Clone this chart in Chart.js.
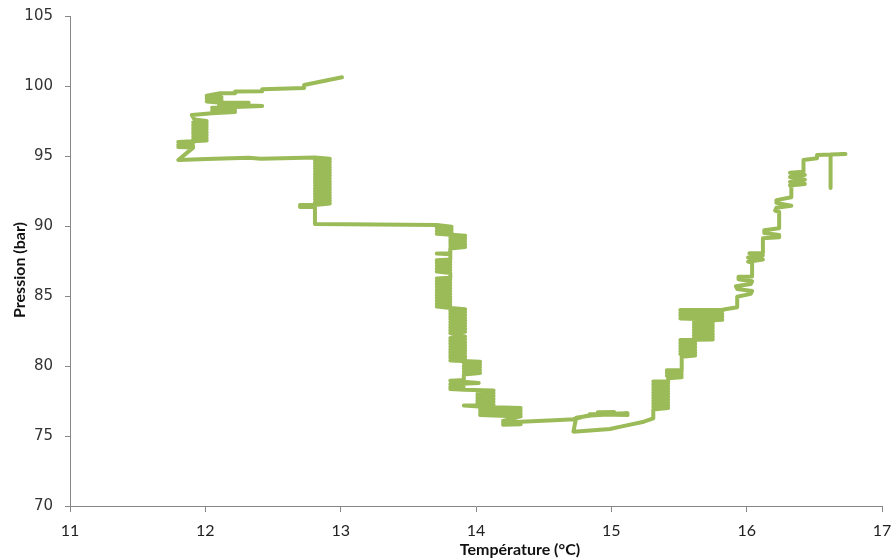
<!DOCTYPE html>
<html lang="fr">
<head>
<meta charset="utf-8">
<title>Pression / Température</title>
<script src="https://cdn.jsdelivr.net/npm/chart.js@4.4.1/dist/chart.umd.min.js"></script>
<style>
  html, body { margin: 0; padding: 0; background: #fff; }
  #wrap { position: relative; width: 896px; height: 560px; }
</style>
</head>
<body>
<div id="wrap"><canvas id="ptChart"></canvas></div>
<script>
// Température (°C), in the order the trace runs
const temperature = [
  13.01, 12.73, 12.73, 12.42, 12.42, 12.22, 12.22, 12.11,
  12.01, 12.12, 12.01, 12.12, 12.01, 12.12,
  12.32, 12.1, 12.42, 12.22,
  12.05, 12.22, 12.05, 12.22, 12.05, 11.9, 11.92,
  12.01, 11.91, 12.01, 11.91, 12.01, 11.91, 12.01, 11.91, 12.01, 11.91, 12.01, 11.91, 12.01, 11.91, 12.01,
  11.8, 11.91, 11.8, 11.91, 11.8, 11.91,
  11.8, 12.01, 12.32, 12.41, 12.81,
  // 12.8 - 12.9 block
  12.92, 12.81, 12.92, 12.81, 12.92, 12.81, 12.92, 12.81, 12.92, 12.81, 12.92, 12.81,
  12.92, 12.81, 12.92, 12.81, 12.92,
  12.81, 12.92, 12.81, 12.92, 12.81, 12.92, 12.81, 12.92, 12.81, 12.92, 12.81, 12.92,
  12.81, 12.92, 12.81, 12.92, 12.81,
  12.7, 12.7, 12.81, 12.81, 13.71,
  // descent near 13.8
  13.82, 13.71, 13.82, 13.71, 13.82, 13.71, 13.82,
  13.92, 13.81, 13.92, 13.81, 13.92, 13.81, 13.92, 13.81, 13.92, 13.81,
  13.81, 13.71, 13.81, 13.81,
  13.71, 13.81, 13.71, 13.81, 13.71, 13.81, 13.71, 13.81, 13.71, 13.81,
  13.81,
  13.71, 13.81, 13.71, 13.81, 13.71, 13.81, 13.71, 13.81, 13.71, 13.81, 13.71,
  13.81, 13.71, 13.81, 13.71, 13.81, 13.71, 13.81, 13.71, 13.81, 13.71, 13.81,
  13.92, 13.81, 13.92, 13.81, 13.92, 13.81, 13.92, 13.81, 13.92,
  13.81, 13.92, 13.81, 13.92, 13.81, 13.92, 13.81, 13.92, 13.81,
  13.92, 13.81, 13.92, 13.81, 13.92, 13.81, 13.92, 13.81, 13.92,
  13.81, 13.92, 13.81, 13.92, 13.81, 13.92, 13.81, 13.92, 13.81,
  14.03, 13.91, 14.03, 13.91, 14.03, 13.91, 14.03, 13.91, 14.03, 13.91,
  13.91,
  13.81, 14.02, 13.81, 13.91, 13.81, 13.91, 13.81, 13.91,
  14.13, 14.01, 14.13, 14.01, 14.13, 14.01, 14.13, 14.01, 14.13, 14.01, 14.13,
  14.01, 13.91, 14.08,
  14.33, 14.03, 14.33, 14.03, 14.33, 14.03, 14.33,
  14.2, 14.33, 14.2, 14.33, 14.2, 14.33,
  // bottom near 76 bar
  14.62, 14.72, 14.82, 15.12, 14.84, 15.12, 14.9, 15.02, 14.74, 14.72, 14.99, 15.07, 15.24, 15.31,
  // ascent
  15.31, 15.42, 15.31, 15.42, 15.31, 15.42, 15.31, 15.42, 15.31, 15.42, 15.31,
  15.42, 15.31, 15.42, 15.31, 15.42, 15.31, 15.42, 15.31, 15.42, 15.31,
  15.42, 15.42,
  15.52, 15.41, 15.52, 15.41, 15.52, 15.41,
  15.52, 15.52,
  15.62, 15.51, 15.62, 15.51, 15.62, 15.51, 15.62, 15.51, 15.62, 15.51, 15.62, 15.51,
  15.75, 15.61, 15.75, 15.61, 15.75, 15.61, 15.75, 15.61, 15.75, 15.61, 15.75, 15.61, 15.75, 15.61,
  15.82, 15.51, 15.82, 15.51, 15.82, 15.51, 15.82, 15.51,
  15.82, 15.93, 15.93,
  15.93, 16.03, 16.04, 15.93, 15.92, 16.03, 16.04, 15.94, 15.94, 16.04, 16.04,
  16.01, 16.12, 16.01, 16.12, 16.02, 16.12, 16.12,
  16.24, 16.24, 16.13, 16.13, 16.24, 16.24,
  16.21, 16.22, 16.33, 16.22, 16.22, 16.33, 16.33,
  16.32, 16.43, 16.32, 16.43, 16.32, 16.43, 16.32, 16.42, 16.42,
  16.52, 16.52, 16.73, 16.62, 16.62
];

// Pression (bar), same order and same line layout as above
const pressure = [
  100.62, 100.07, 99.85, 99.76, 99.62, 99.6, 99.48, 99.48,
  99.3, 99.2, 99.1, 99.0, 98.9, 98.8,
  98.8, 98.7, 98.58, 98.5,
  98.45, 98.35, 98.25, 98.15, 98.05, 97.93, 97.6,
  97.5, 97.4, 97.3, 97.2, 97.1, 97.0, 96.9, 96.8, 96.7, 96.6, 96.5, 96.4, 96.3, 96.2, 96.1,
  96.0, 95.9, 95.8, 95.7, 95.65, 95.6,
  94.71, 94.79, 94.88, 94.81, 94.9,
  94.8, 94.7, 94.6, 94.5, 94.4, 94.3, 94.2, 94.1, 94.0, 93.9, 93.8, 93.7,
  93.6, 93.5, 93.4, 93.3, 93.2,
  93.1, 93.0, 92.9, 92.8, 92.7, 92.6, 92.5, 92.4, 92.3, 92.2, 92.1, 92.0,
  91.9, 91.8, 91.7, 91.6, 91.5,
  91.5, 91.35, 91.35, 90.14, 90.07,
  89.95, 89.85, 89.75, 89.65, 89.55, 89.45, 89.37,
  89.3, 89.2, 89.1, 89.0, 88.9, 88.8, 88.7, 88.6, 88.5, 88.4,
  88.04, 88.04, 87.98, 87.6,
  87.55, 87.45, 87.35, 87.25, 87.15, 87.05, 86.95, 86.85, 86.75, 86.65,
  86.3,
  86.25, 86.15, 86.05, 85.95, 85.85, 85.75, 85.65, 85.55, 85.45, 85.35, 85.25,
  85.15, 85.05, 84.95, 84.85, 84.75, 84.65, 84.55, 84.45, 84.35, 84.25, 84.15,
  84.05, 83.95, 83.85, 83.75, 83.65, 83.55, 83.45, 83.35, 83.25,
  83.15, 83.05, 82.95, 82.85, 82.75, 82.65, 82.55, 82.45, 82.35,
  82.1, 82.0, 81.9, 81.8, 81.7, 81.6, 81.5, 81.4, 81.3,
  81.2, 81.1, 81.0, 80.9, 80.8, 80.7, 80.6, 80.5, 80.4,
  80.3, 80.2, 80.1, 80.0, 79.9, 79.8, 79.7, 79.6, 79.5, 79.4,
  79.0,
  78.95, 78.78, 78.7, 78.6, 78.5, 78.4, 78.35, 78.3,
  78.25, 78.15, 78.05, 77.95, 77.85, 77.75, 77.65, 77.55, 77.45, 77.35, 77.25,
  77.2, 77.18, 77.08,
  77.0, 76.9, 76.8, 76.7, 76.6, 76.5, 76.4,
  76.08, 76.0, 75.92, 75.84, 75.8, 76.02,
  76.14, 76.2, 76.45, 76.62, 76.55, 76.5, 76.7, 76.72, 76.3, 75.31, 75.5, 75.67, 76.02, 76.26,
  76.9, 77.0, 77.1, 77.2, 77.3, 77.4, 77.5, 77.6, 77.7, 77.8, 77.9,
  78.0, 78.1, 78.2, 78.3, 78.4, 78.5, 78.6, 78.7, 78.8, 78.9,
  78.9, 79.12,
  79.2, 79.3, 79.4, 79.5, 79.6, 79.7,
  79.72, 80.66,
  80.75, 80.85, 80.95, 81.05, 81.15, 81.25, 81.35, 81.45, 81.55, 81.65, 81.75, 81.85,
  81.9, 82.0, 82.1, 82.2, 82.3, 82.4, 82.5, 82.6, 82.7, 82.8, 82.9, 83.0, 83.1, 83.2,
  83.3, 83.4, 83.5, 83.6, 83.7, 83.8, 83.9, 84.0,
  84.02, 84.19, 84.71,
  84.95, 85.15, 85.35, 85.5, 85.7, 85.85, 86.05, 86.2, 86.38, 86.4, 87.36,
  87.45, 87.6, 87.75, 87.9, 88.05, 88.07, 89.12,
  89.2, 89.35, 89.5, 89.7, 89.84, 91.0,
  91.1, 91.3, 91.45, 91.65, 91.85, 92.05, 92.81,
  92.9, 93.0, 93.15, 93.3, 93.5, 93.65, 93.8, 93.88, 94.71,
  94.84, 95.07, 95.14, 95.1, 92.71
];

const xTitle = "Température (°C)";
const yTitle = "Pression (bar)";

if (temperature.length !== pressure.length) {
  console.error("length mismatch", temperature.length, pressure.length);
}

const points = temperature.map((t, i) => ({ x: t, y: pressure[i] }));

// axis titles drawn by hand, the x one sits right of centre like in the original
const axisTitles = {
  id: "axisTitles",
  afterDraw(chart) {
    const c = chart.ctx;
    c.save();
    c.fillStyle = "#111";
    c.font = "bold 16px Lato";
    c.textAlign = "center";
    c.textBaseline = "alphabetic";
    c.fillText(xTitle, 520, 555);
    c.translate(25, 270);
    c.rotate(-Math.PI / 2);
    c.fillText(yTitle, 0, 0);
    c.restore();
  }
};

const axisGray = "#868686";

new Chart(document.getElementById("ptChart"), {
  type: "scatter",
  data: {
    datasets: [
      {
        data: points,
        showLine: true,
        borderColor: "#9BBB59",
        backgroundColor: "#9BBB59",
        borderWidth: 4,
        borderJoinStyle: "round",
        borderCapStyle: "round",
        pointRadius: 0,
        tension: 0,
        fill: false
      }
    ]
  },
  options: {
    responsive: true,
    maintainAspectRatio: false,
    animation: false,
    layout: { padding: { left: 0, top: 16, right: 14, bottom: 0 } },
    plugins: {
      legend: { display: false },
      tooltip: { enabled: false }
    },
    scales: {
      x: {
        type: "linear",
        min: 11,
        max: 17,
        afterFit: (s) => {
          s.height = 54;
          s.paddingLeft = 0;
          s.paddingRight = 0;
        },
        ticks: {
          stepSize: 1,
          color: "#222",
          font: { family: "Lato", size: 16 },
          padding: 9
        },
        grid: { drawOnChartArea: false, drawTicks: true, tickLength: 6, color: axisGray },
        border: { color: axisGray, width: 1 }
      },
      y: {
        type: "linear",
        min: 70,
        max: 105,
        afterFit: (s) => {
          s.width = 70;
          s.paddingTop = 0;
          s.paddingBottom = 0;
        },
        ticks: {
          stepSize: 5,
          color: "#333",
          font: { family: "DejaVu Sans", size: 15 },
          padding: 12
        },
        grid: { drawOnChartArea: false, drawTicks: true, tickLength: 5, color: axisGray },
        border: { color: axisGray, width: 1 }
      }
    }
  },
  plugins: [axisTitles]
});
</script>
</body>
</html>
